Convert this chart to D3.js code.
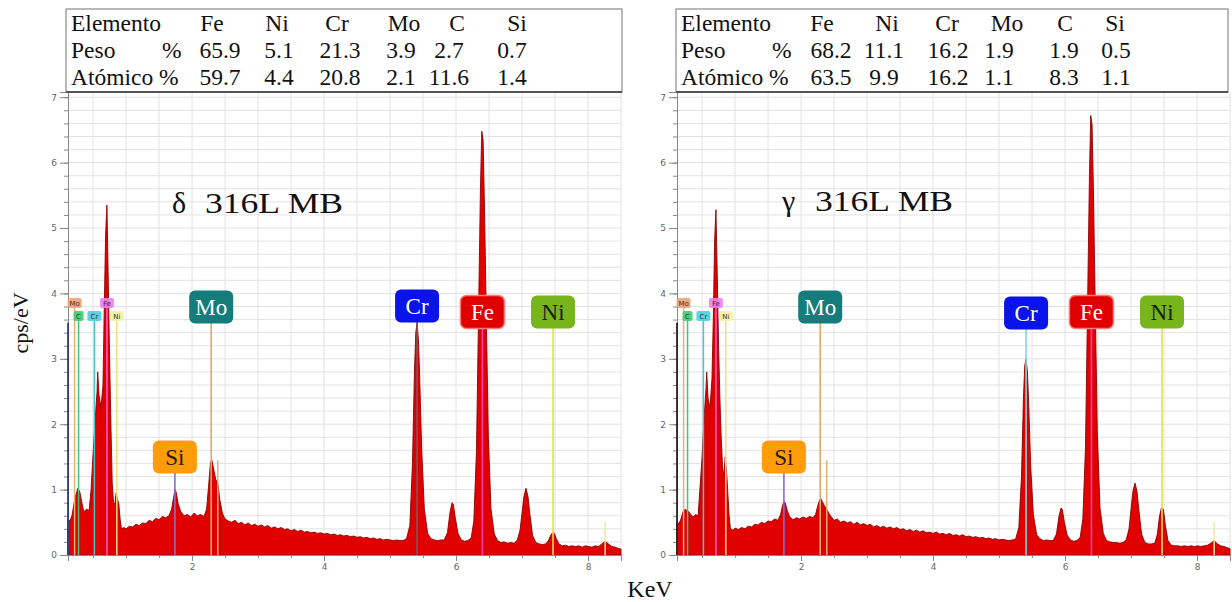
<!DOCTYPE html>
<html>
<head>
<meta charset="utf-8">
<script src="https://cdn.jsdelivr.net/npm/d3@7"></script>
<style>
  body { margin: 0; background: #fff; }
  svg { display: block; }
</style>
</head>
<body>
<svg id="chart" width="1232" height="602"></svg>
<script>
// energy grid (keV) shared by both spectra
var energy = [0.12,0.15,0.18,0.21,0.24,0.27,0.30,0.33,0.36,0.40,0.44,0.47,0.50,0.53,0.56,0.57,0.59,0.62,0.65,0.67,
  0.69,0.71,0.73,0.75,0.77,0.79,0.81,0.83,0.85,0.87,0.89,0.91,0.93,0.97,1.00,1.05,1.10,1.15,1.20,1.25,
  1.30,1.35,1.40,1.45,1.50,1.55,1.60,1.65,1.69,1.72,1.74,1.76,1.79,1.83,1.88,1.93,1.98,2.03,2.08,2.13,
  2.18,2.22,2.25,2.28,2.30,2.33,2.36,2.39,2.42,2.46,2.50,2.55,2.60,2.65,2.70,2.75,2.80,2.85,2.90,2.95,
  3.00,3.05,3.10,3.15,3.20,3.25,3.30,3.35,3.40,3.45,3.50,3.55,3.60,3.65,3.70,3.75,3.80,3.85,3.90,3.95,
  4.00,4.05,4.10,4.15,4.20,4.25,4.30,4.35,4.40,4.45,4.50,4.55,4.60,4.65,4.70,4.75,4.80,4.85,4.90,4.95,
  5.00,5.05,5.10,5.15,5.20,5.25,5.30,5.34,5.37,5.39,5.41,5.43,5.45,5.48,5.52,5.57,5.62,5.67,5.72,5.77,
  5.82,5.87,5.91,5.94,5.96,5.99,6.03,6.08,6.13,6.18,6.23,6.27,6.31,6.34,6.37,6.39,6.41,6.43,6.46,6.49,
  6.53,6.58,6.63,6.68,6.73,6.78,6.83,6.88,6.93,6.97,7.00,7.03,7.06,7.09,7.12,7.16,7.21,7.26,7.31,7.36,
  7.40,7.43,7.46,7.49,7.52,7.56,7.61,7.66,7.71,7.76,7.81,7.86,7.91,7.96,8.01,8.06,8.11,8.16,8.21,8.26,
  8.31,8.36,8.41,8.46,8.50];

// delta ferrite spectrum (cps/eV)
var deltaCps = [0.55,0.52,0.60,0.78,0.92,1.02,0.96,0.80,0.66,0.70,0.68,1.00,1.55,2.05,2.50,2.80,2.45,2.25,2.60,3.80,
  4.90,5.35,4.20,3.05,2.00,1.10,0.80,0.78,0.95,0.85,0.78,0.55,0.40,0.42,0.40,0.44,0.43,0.47,0.45,0.49,
  0.48,0.53,0.51,0.56,0.54,0.59,0.57,0.60,0.70,0.88,1.00,0.96,0.78,0.66,0.60,0.62,0.58,0.64,0.60,0.62,
  0.59,0.70,1.05,1.42,1.45,1.30,1.15,1.10,0.85,0.64,0.55,0.52,0.50,0.53,0.48,0.50,0.46,0.49,0.45,0.47,
  0.44,0.46,0.43,0.45,0.41,0.43,0.40,0.42,0.39,0.40,0.37,0.39,0.36,0.38,0.35,0.36,0.34,0.35,0.33,0.34,
  0.32,0.33,0.31,0.32,0.30,0.31,0.29,0.30,0.28,0.29,0.27,0.28,0.26,0.27,0.25,0.26,0.24,0.25,0.23,0.24,
  0.23,0.22,0.23,0.22,0.22,0.25,0.45,1.40,2.80,3.40,3.55,3.30,2.70,1.60,0.70,0.33,0.25,0.23,0.22,0.23,
  0.23,0.34,0.66,0.80,0.77,0.56,0.33,0.23,0.21,0.22,0.26,0.52,1.60,3.60,5.60,6.48,6.35,5.40,3.60,1.80,
  0.70,0.32,0.22,0.19,0.20,0.18,0.19,0.18,0.23,0.38,0.64,0.90,1.02,0.90,0.62,0.30,0.19,0.17,0.16,0.17,
  0.22,0.29,0.34,0.33,0.25,0.17,0.14,0.15,0.13,0.14,0.13,0.14,0.12,0.14,0.13,0.12,0.14,0.13,0.17,0.21,
  0.17,0.13,0.12,0.10,0.09];

// austenite (gamma) spectrum (cps/eV)
var gammaCps = [0.50,0.48,0.55,0.66,0.70,0.68,0.66,0.62,0.58,0.62,0.60,1.05,1.50,2.10,2.55,2.80,2.40,2.25,2.70,3.60,
  4.80,5.28,4.30,3.20,2.40,1.80,1.35,1.20,1.50,1.30,0.95,0.60,0.40,0.38,0.41,0.39,0.42,0.40,0.44,0.43,
  0.47,0.46,0.50,0.48,0.52,0.51,0.55,0.53,0.62,0.76,0.82,0.80,0.68,0.58,0.54,0.57,0.55,0.58,0.56,0.59,
  0.57,0.62,0.74,0.84,0.86,0.80,0.74,0.70,0.64,0.58,0.53,0.55,0.50,0.52,0.49,0.51,0.47,0.50,0.46,0.48,
  0.45,0.47,0.43,0.45,0.42,0.44,0.41,0.43,0.40,0.42,0.39,0.40,0.37,0.39,0.36,0.38,0.35,0.37,0.34,0.35,
  0.33,0.35,0.32,0.33,0.31,0.33,0.30,0.31,0.29,0.31,0.28,0.29,0.27,0.28,0.26,0.27,0.25,0.26,0.24,0.25,
  0.23,0.24,0.23,0.22,0.23,0.24,0.42,1.20,2.40,2.90,3.00,2.80,2.30,1.35,0.62,0.31,0.25,0.22,0.23,0.22,
  0.22,0.32,0.60,0.72,0.69,0.50,0.31,0.23,0.21,0.22,0.27,0.55,1.65,3.70,5.80,6.72,6.58,5.60,3.70,1.85,
  0.72,0.33,0.22,0.20,0.19,0.19,0.18,0.19,0.24,0.40,0.70,0.98,1.10,0.98,0.68,0.32,0.19,0.17,0.17,0.18,
  0.32,0.58,0.72,0.70,0.46,0.22,0.15,0.14,0.14,0.13,0.14,0.13,0.14,0.13,0.14,0.13,0.14,0.15,0.18,0.22,
  0.17,0.14,0.13,0.11,0.10];

// composition tables
var elements = ["Fe", "Ni", "Cr", "Mo", "C", "Si"];
var pesoDelta = [65.9, 5.1, 21.3, 3.9, 2.7, 0.7];
var atomicoDelta = [59.7, 4.4, 20.8, 2.1, 11.6, 1.4];
var pesoGamma = [68.2, 11.1, 16.2, 1.9, 1.9, 0.5];
var atomicoGamma = [63.5, 9.9, 16.2, 1.1, 8.3, 1.1];

// element markers (keV)
var majorLines = [
  { el: "Si", e: 1.74 }, { el: "Mo", e: 2.29 }, { el: "Cr", e: 5.41 },
  { el: "Fe", e: 6.40 }, { el: "Ni", e: 7.47 }
];
var minorLines = [
  { el: "Mo", e: 0.22 }, { el: "C", e: 0.28 }, { el: "Cr", e: 0.52 },
  { el: "Fe", e: 0.71 }, { el: "Ni", e: 0.86 }
];

var serif = "'Liberation Serif', 'Times New Roman', serif";
var sans = "'DejaVu Sans', Arial, sans-serif";

var boxStyle = {
  Si: { fill: "#ff9c0a", text: "#2a1a00", line: "#8a6ad0" },
  Mo: { fill: "#157c7c", text: "#ffffff", line: "#e0a868" },
  Cr: { fill: "#0a14ea", text: "#ffffff", line: "#7a5a5a" },
  Fe: { fill: "#e00000", text: "#ffffff", line: "#ff3fb0" },
  Ni: { fill: "#78b41c", text: "#142000", line: "#e6e04a" }
};
var smallStyle = {
  Mo: { fill: "#f2a06e", line: "#f0b070" },
  C:  { fill: "#3ccc74", line: "#3cc47a" },
  Cr: { fill: "#46cfe0", line: "#40c8d8" },
  Fe: { fill: "#ee80ee", line: "#ff5fd0" },
  Ni: { fill: "#f2f0a0", line: "#eee27c" }
};

var svg = d3.select("#chart");

var panels = [
  { x0: 68, x1: 621, cps: deltaCps, peso: pesoDelta, atom: atomicoDelta, sym: "δ",
    titleX: 172, titleY: 213, tableX: 66, tableW: 556, textX: 71,
    headCols: [212, 277, 337, 404, 457, 517], valCols: [220, 279, 340, 401, 449, 512],
    boxY: { Si: 457, Mo: 307, Cr: 306, Fe: 312, Ni: 312 },
    crLine: "#7a5a5a", axisMark: "#1c2a7a" },
  { x0: 677, x1: 1230, cps: gammaCps, peso: pesoGamma, atom: atomicoGamma, sym: "γ",
    titleX: 782, titleY: 211, tableX: 676, tableW: 552, textX: 681,
    headCols: [822, 887, 947, 1007, 1065, 1115], valCols: [831, 884, 948, 999, 1064, 1116],
    boxY: { Si: 457, Mo: 307, Cr: 313, Fe: 312, Ni: 312 },
    crLine: "#86d4dc", axisMark: "#111111" }
];

var yTop = 92, yBase = 555;

panels.forEach(function (p) {
  var x = d3.scaleLinear().domain([0.12, 8.5]).range([p.x0, p.x1]);
  var y = d3.scaleLinear().domain([0, 7.08]).range([yBase, yTop]);
  var g = svg.append("g");

  // grid
  g.selectAll(".vg").data(d3.range(0.5, 8.51, 0.5)).enter().append("line")
    .attr("x1", d => x(d)).attr("x2", d => x(d))
    .attr("y1", yTop).attr("y2", yBase)
    .attr("stroke", "#e2e2e2").attr("stroke-width", 1);
  g.selectAll(".hg").data(d3.range(0.2, 7.01, 0.2)).enter().append("line")
    .attr("x1", p.x0).attr("x2", p.x1)
    .attr("y1", d => y(d)).attr("y2", d => y(d))
    .attr("stroke", "#e2e2e2").attr("stroke-width", 1);

  // spectrum
  var pts = energy.map((e, i) => [e, p.cps[i]]);
  var area = d3.area().x(d => x(d[0])).y0(yBase).y1(d => y(d[1]));
  g.append("path").datum(pts).attr("d", area)
    .attr("fill", "#e10000").attr("stroke", "#8e0000").attr("stroke-width", 0.9);

  // extra marker lines
  g.append("line").attr("x1", x(2.39)).attr("x2", x(2.39)).attr("y1", y(1.45)).attr("y2", yBase)
    .attr("stroke", "#e8b070").attr("stroke-width", 1.5);
  g.append("line").attr("x1", x(8.26)).attr("x2", x(8.26)).attr("y1", y(0.5)).attr("y2", yBase)
    .attr("stroke", "#eeea9a").attr("stroke-width", 1.5);

  // axes
  var yAxis = d3.axisLeft(y).tickValues(d3.range(0, 8)).tickSize(8).tickFormat(d3.format("d"));
  var ya = g.append("g").attr("transform", `translate(${p.x0},0)`).call(yAxis);
  g.append("g").attr("transform", `translate(${p.x0},0)`)
    .call(d3.axisLeft(y).tickValues(d3.range(0.2, 7.01, 0.2)).tickSize(4).tickFormat(""))
    .call(s => s.select(".domain").remove());
  var xa = g.append("g").attr("transform", `translate(0,${yBase})`)
    .call(d3.axisBottom(x).tickValues([2, 4, 6, 8]).tickSize(6).tickFormat(d3.format("d")));
  g.append("g").attr("transform", `translate(0,${yBase})`)
    .call(d3.axisBottom(x).tickValues(d3.range(0.5, 8.51, 0.5)).tickSize(3).tickFormat(""))
    .call(s => s.select(".domain").remove());
  [ya, xa].forEach(function (a) {
    a.selectAll("text").attr("font-family", sans).attr("font-size", 9).attr("fill", "#666");
    a.select(".domain").attr("stroke", "#888");
  });
  g.selectAll(".tick line").attr("stroke", "#888");
  g.append("line").attr("x1", p.x0).attr("x2", p.x0).attr("y1", yBase).attr("y2", y(3.55))
    .attr("stroke", p.axisMark).attr("stroke-width", 1.6);

  // minor (L/M line) markers
  minorLines.forEach(function (m) {
    var cx = x(m.e);
    var cy = (m.el === "Mo" || m.el === "Fe") ? 303 : 316;
    var st = smallStyle[m.el];
    g.append("line").attr("x1", cx).attr("x2", cx).attr("y1", cy + 5).attr("y2", yBase)
      .attr("stroke", st.line).attr("stroke-width", 1.5);
    var w = m.el.length > 1 ? 14 : 10;
    g.append("rect").attr("x", cx - w / 2).attr("y", cy - 5).attr("width", w).attr("height", 10)
      .attr("rx", 2).attr("fill", st.fill).attr("opacity", 0.9);
    g.append("text").attr("x", cx).attr("y", cy + 2.5).attr("text-anchor", "middle")
      .attr("font-family", sans).attr("font-size", 7).attr("fill", "#333").text(m.el);
  });

  // major (K) markers with labels
  majorLines.forEach(function (m) {
    var cx = x(m.e), cy = p.boxY[m.el];
    var st = boxStyle[m.el];
    var lc = m.el === "Cr" ? p.crLine : st.line;
    g.append("line").attr("x1", cx).attr("x2", cx).attr("y1", cy + 16).attr("y2", yBase)
      .attr("stroke", lc).attr("stroke-width", 1.6);
    g.append("rect").attr("x", cx - 22).attr("y", cy - 16.5).attr("width", 44).attr("height", 33)
      .attr("rx", 6).attr("fill", st.fill)
      .attr("stroke", m.el === "Fe" ? "#ff7a7a" : "none").attr("stroke-width", 1.5);
    g.append("text").attr("x", cx).attr("y", cy + 7.5).attr("text-anchor", "middle")
      .attr("font-family", serif).attr("font-size", 23).attr("fill", st.text).text(m.el);
  });

  // composition table
  var t = svg.append("g");
  t.append("rect").attr("x", p.tableX).attr("y", 9).attr("width", p.tableW).attr("height", 83)
    .attr("fill", "#fff").attr("stroke", "#8a8a8a").attr("stroke-width", 1.2);
  t.append("line").attr("x1", p.tableX).attr("x2", p.tableX + p.tableW).attr("y1", 92).attr("y2", 92)
    .attr("stroke", "#555").attr("stroke-width", 2);
  var txt = (xx, yy, s, anchor) => t.append("text").attr("x", xx).attr("y", yy)
    .attr("text-anchor", anchor || "start").attr("font-family", serif).attr("font-size", 23.5)
    .attr("fill", "#111").text(s);
  txt(p.textX, 31, "Elemento");
  txt(p.textX, 58, "Peso");
  txt(p.textX + 91, 58, "%");
  txt(p.textX, 85, "Atómico %");
  elements.forEach(function (el, i) {
    txt(p.headCols[i], 31, el, "middle");
    txt(p.valCols[i], 58, p.peso[i].toFixed(1), "middle");
    txt(p.valCols[i], 85, p.atom[i].toFixed(1), "middle");
  });

  // sample title
  svg.append("text").attr("x", p.titleX).attr("y", p.titleY)
    .attr("font-family", serif).attr("font-size", 30).attr("fill", "#111").text(p.sym);
  svg.append("text").attr("x", p.titleX + 33).attr("y", p.titleY)
    .attr("font-family", serif).attr("font-size", 29).attr("fill", "#111")
    .attr("textLength", 138).attr("lengthAdjust", "spacingAndGlyphs").text("316L MB");
});

// axis titles
svg.append("text").attr("transform", "translate(28,323) rotate(-90)")
  .attr("text-anchor", "middle").attr("font-family", serif).attr("font-size", 22)
  .attr("fill", "#111").text("cps/eV");
svg.append("text").attr("x", 650).attr("y", 597).attr("text-anchor", "middle")
  .attr("font-family", serif).attr("font-size", 24).attr("fill", "#111").text("KeV");
</script>
</body>
</html>
